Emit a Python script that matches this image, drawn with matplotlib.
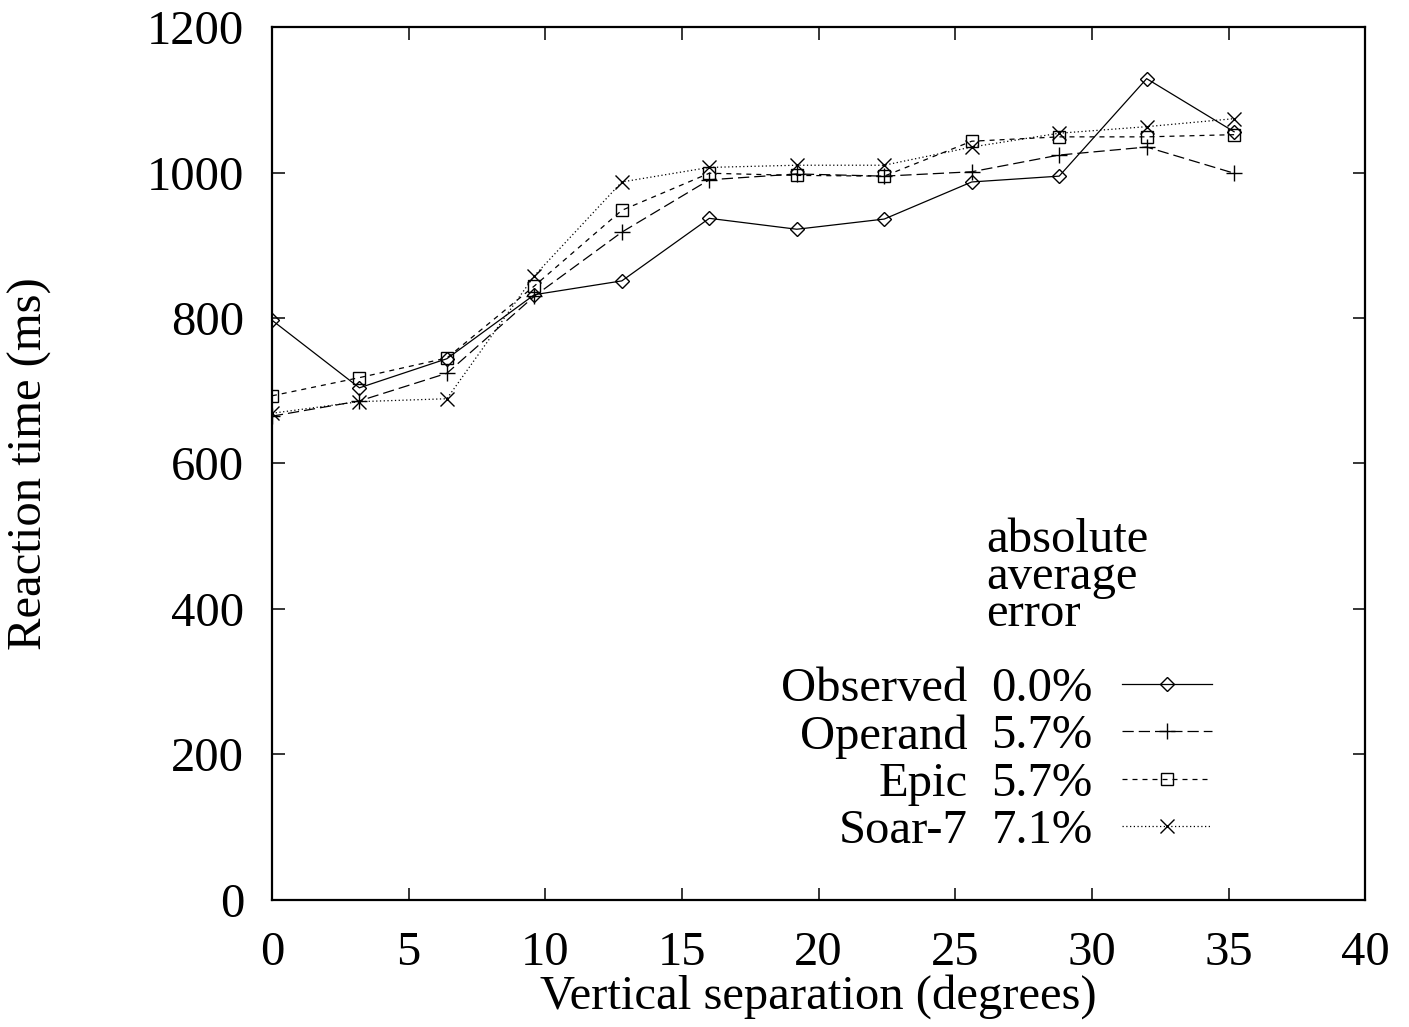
import numpy as np
import matplotlib
matplotlib.use("Agg")
import matplotlib.pyplot as plt
from matplotlib.legend_handler import HandlerLine2D

# ---- data ----
separation = [0, 3.2, 6.4, 9.6, 12.8, 16.0, 19.2, 22.4, 25.6, 28.8, 32.0, 35.2]
observed = [797, 704, 744, 832, 851, 937, 922, 936, 987, 995, 1129, 1056]
operand = [665, 686, 724, 830, 918, 990, 998, 995, 1001, 1024, 1035, 999]
epic = [693, 718, 745, 844, 948, 999, 996, 995, 1043, 1049, 1049, 1052]
soar7 = [669, 685, 689, 858, 987, 1007, 1010, 1010, 1035, 1054, 1063, 1074]

names = ["Observed", "Operand", "Epic", "Soar-7"]
errors = ["0.0%", "5.7%", "5.7%", "7.1%"]
xticks = [0, 5, 10, 15, 20, 25, 30, 35, 40]
yticks = [0, 200, 400, 600, 800, 1000, 1200]

plt.rcParams['font.family'] = ['Liberation Serif', 'DejaVu Serif']
FS = 35

fig = plt.figure(figsize=(14.09, 10.27), dpi=100)
ax = fig.add_axes([0.193, 0.1237, 0.776, 0.85])

styles = [
    dict(ls='-', marker='D', ms=7.5),
    dict(ls=(0, (9, 4)), marker='+', ms=11),
    dict(ls=(0, (4, 4)), marker='s', ms=9),
    dict(ls=(0, (1, 2)), marker='x', ms=10),
]
series = [observed, operand, epic, soar7]
handles = []
for s, st in zip(series, styles):
    h, = ax.plot(separation, s, color='black', lw=0.9, linestyle=st['ls'],
                 marker=st['marker'], ms=st['ms'], mfc='none', mec='black',
                 mew=1.0)
    handles.append(h)

ax.set_xlim(0, 40)
ax.set_ylim(0, 1200)
ax.set_xticks(xticks)
ax.set_yticks(yticks)
ax.tick_params(direction='in', length=9, width=1.1, top=True, right=True,
               labelsize=FS)
ax.tick_params(axis='x', pad=22)
ax.tick_params(axis='y', pad=20)
for sp in ax.spines.values():
    sp.set_linewidth(1.6)

ax.set_xlabel("Vertical separation (degrees)", fontsize=FS, labelpad=0)
ax.set_ylabel("Reaction time (ms)", fontsize=FS, labelpad=68)


class ThirdMarkerHandler(HandlerLine2D):
    def get_xdata(self, legend, xdescent, ydescent, width, height, fontsize):
        xdata = np.array([-xdescent, -xdescent + width])
        xdata_marker = np.array([-xdescent + width / 3.0])
        return xdata, xdata_marker


leg = ax.legend(handles, errors, markerfirst=False, frameon=False,
                fontsize=FS, handlelength=1.85, handletextpad=0.6,
                labelspacing=0.07, borderpad=0, borderaxespad=0,
                loc='upper left', bbox_to_anchor=(0.658, 0.267),
                handler_map={h: ThirdMarkerHandler() for h in handles})

fig.canvas.draw()
renderer = fig.canvas.get_renderer()
inv = ax.transAxes.inverted()
for txt, name in zip(leg.get_texts(), names):
    bb = txt.get_window_extent(renderer)
    x0, yc = inv.transform((bb.x0, (bb.y0 + bb.y1) / 2))
    ax.text(x0 - 0.022, yc, name, transform=ax.transAxes, ha='right',
            va='center', fontsize=FS)

ax.text(0.653, 0.438, "absolute\naverage\nerror", transform=ax.transAxes,
        ha='left', va='top', fontsize=FS, linespacing=0.8)

fig.savefig("out.png", dpi=100)
